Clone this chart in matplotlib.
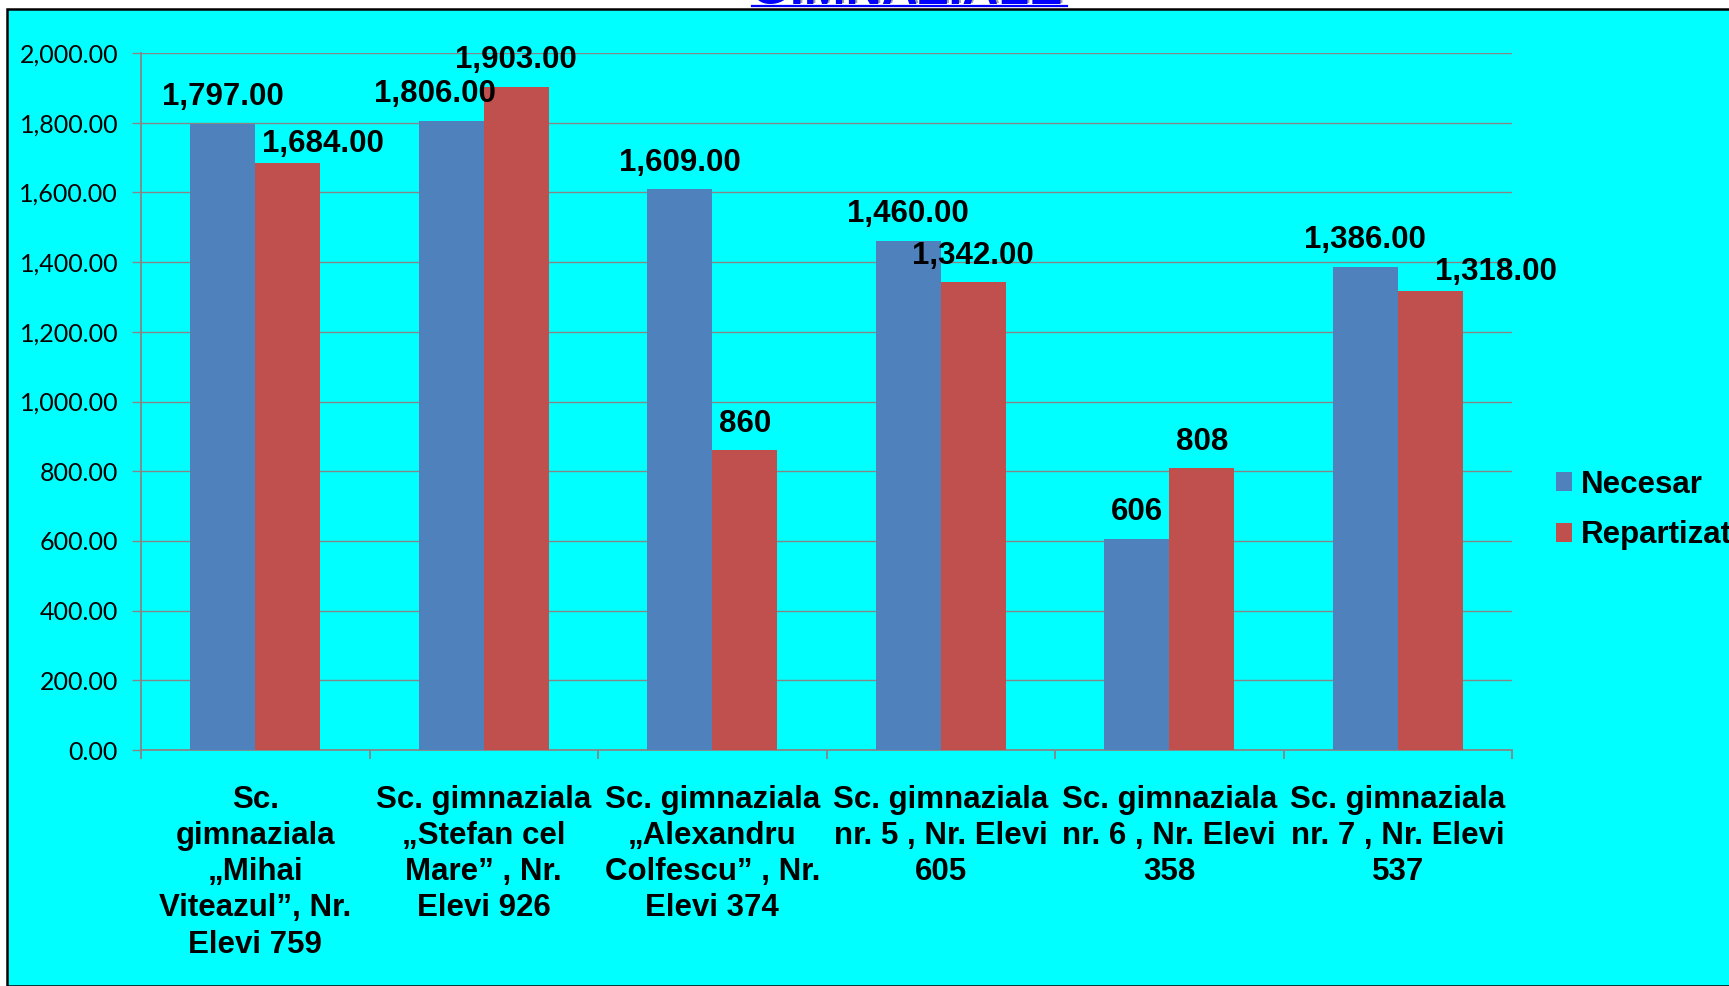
import matplotlib
matplotlib.use("Agg")
import matplotlib.pyplot as plt
import matplotlib.patches as patches
from matplotlib import ticker
from matplotlib.lines import Line2D
import numpy as np

BLUE, RED = '#4F81BD', '#C0504D'
CYAN = '#00FFFF'
GRID = '#868686'

schools = [
    'Sc.\ngimnaziala\n\u201eMihai\nViteazul\u201d, Nr.\nElevi 759',
    'Sc. gimnaziala\n\u201eStefan cel\nMare\u201d , Nr.\nElevi 926',
    'Sc. gimnaziala\n\u201eAlexandru\nColfescu\u201d , Nr.\nElevi 374',
    'Sc. gimnaziala\nnr. 5 , Nr. Elevi\n605',
    'Sc. gimnaziala\nnr. 6 , Nr. Elevi\n358',
    'Sc. gimnaziala\nnr. 7 , Nr. Elevi\n537',
]
necesar = [1797, 1806, 1609, 1460, 606, 1386]
repartizat = [1684, 1903, 860, 1342, 808, 1318]
# labels shown without decimals in the original
plain_necesar = [False, False, False, False, True, False]
plain_repartizat = [False, False, True, False, True, False]

BOLD = 'Liberation Sans'
FS = 22.5

fig = plt.figure(figsize=(17.29, 9.86), dpi=100)
fig.patch.set_facecolor('white')

# cyan slide background with black frame
bg = patches.Rectangle((7 / 1729, 0.5 / 986), 1.2, 1 - 9.5 / 986,
                       transform=fig.transFigure, facecolor=CYAN,
                       edgecolor='black', lw=1.8, zorder=-10)
fig.patches.append(bg)

# clipped title at the top edge
fig.text(909 / 1729, 1 - 3 / 986, 'GIMNAZIALE', color='#A0A0A0', fontsize=36,
         fontweight='bold', family=BOLD, ha='center', va='baseline')
fig.text(907 / 1729, 1 - 4 / 986, 'GIMNAZIALE', color='#0000FF', fontsize=36,
         fontweight='bold', family=BOLD, ha='center', va='baseline')
fig.add_artist(Line2D([752 / 1729, 1067 / 1729], [1 - 6 / 986, 1 - 6 / 986],
                      transform=fig.transFigure, color='#0000FF', lw=1.6))

ax = fig.add_axes([141 / 1729, 1 - 750 / 986, (1512 - 141) / 1729, (750 - 53) / 986])
ax.set_facecolor('none')

x = np.arange(len(schools))
w = 0.285
b1 = ax.bar(x - w / 2, necesar, w, color=BLUE, zorder=3, label='Necesar')
b2 = ax.bar(x + w / 2, repartizat, w, color=RED, zorder=3, label='Repartizat')

ax.set_xlim(-0.5, len(schools) - 0.5)
ax.set_ylim(0, 2000)
ax.yaxis.set_major_locator(ticker.MultipleLocator(200))
ax.yaxis.set_major_formatter(ticker.StrMethodFormatter('{x:,.2f}'))
ax.grid(axis='y', color=GRID, lw=1.0, zorder=0)
ax.set_axisbelow(True)

for s in ['top', 'right']:
    ax.spines[s].set_visible(False)
for s in ['left', 'bottom']:
    ax.spines[s].set_color(GRID)
    ax.spines[s].set_linewidth(1.3)

ax.tick_params(axis='y', length=6.5, color=GRID, width=1.0, pad=10, labelsize=18)
for lab in ax.get_yticklabels():
    lab.set_family('Lato')

ax.set_xticks(x)
ax.set_xticklabels(schools, fontsize=FS, fontweight='bold', family=BOLD,
                   linespacing=1.27)
ax.tick_params(axis='x', length=0, pad=25)
ax.set_xticks(np.arange(-0.5, len(schools)), minor=True)
ax.tick_params(axis='x', which='minor', length=6.5, color=GRID, width=1.3)

# data labels (offsets in points, a few nudged like in the original)
off_n = {1: (-12, 13.5)}
off_r = {0: (25, 8), 5: (47, 8)}
for i in range(len(schools)):
    for xs, vals, plain, offs in ((x - w / 2, necesar, plain_necesar, off_n),
                                  (x + w / 2, repartizat, plain_repartizat, off_r)):
        v = vals[i]
        txt = f'{v:,}' if plain[i] else f'{v:,.2f}'
        dx, dy = offs.get(i, (0, 13.5))
        ax.annotate(txt, (xs[i], v), xytext=(dx, dy), textcoords='offset points',
                    ha='center', va='baseline', fontsize=FS, fontweight='bold',
                    family=BOLD, zorder=5)

fig.legend(handles=[b1, b2], loc='center left',
           bbox_to_anchor=(1556 / 1729, 1 - 510 / 986),
           frameon=False, borderpad=0, borderaxespad=0,
           handlelength=0.51, handleheight=0.55, handletextpad=0.29,
           labelspacing=0.66,
           prop={'family': BOLD, 'weight': 'bold', 'size': FS})

fig.savefig('out.png', dpi=100)
